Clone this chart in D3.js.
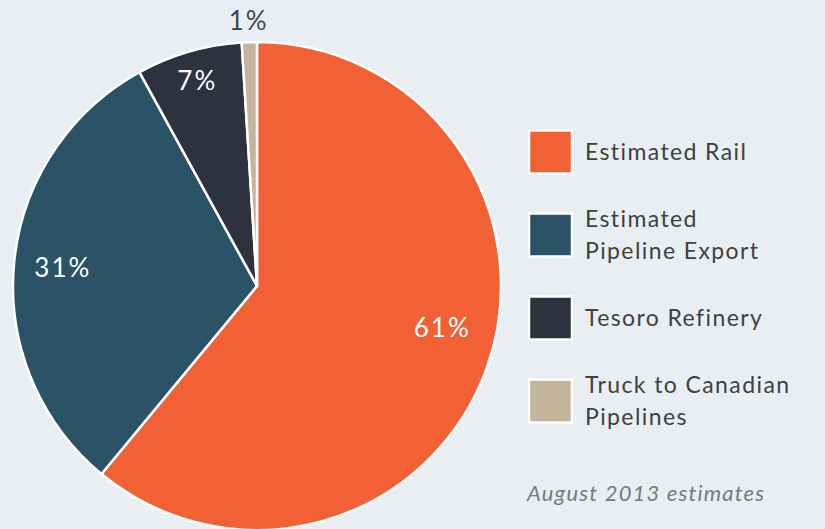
<!DOCTYPE html>
<html lang="en">
<head>
<meta charset="utf-8">
<title>Crude oil transport shares</title>
<script src="https://d3js.org/d3.v7.min.js"></script>
<style>
  body { margin: 0; background: #e9eef2; }
  svg { display: block; font-family: "Lato", "Open Sans", sans-serif; }
  .legend-text { fill: #404040; font-size: 23px; letter-spacing: 1.4px; }
  .slice-label { font-size: 26px; letter-spacing: 2px; }
  .note { fill: #7a7a7a; font-size: 22px; font-style: italic; letter-spacing: 1.2px; }
</style>
</head>
<body>
<script>
const categories = ["Estimated Rail", "Estimated Pipeline Export", "Tesoro Refinery", "Truck to Canadian Pipelines"];
const legendLines = [["Estimated Rail"], ["Estimated", "Pipeline Export"], ["Tesoro Refinery"], ["Truck to Canadian", "Pipelines"]];
const shares = [61, 31, 7, 1];
const colors = ["#f26036", "#2b5266", "#2e323f", "#c4b49b"];
// label placement: radius and small angle nudge (degrees), white inside / dark outside
const labelRadius = [190, 195, 214, 266];
const labelNudge = [-7, 0, 0, 0];
const labelFill = ["#fff", "#fff", "#fff", "#444"];

const w = 825, h = 529;
const cx = 257, cy = 286, r = 244;

const svg = d3.select("body").append("svg")
  .attr("width", w).attr("height", h);

svg.append("rect").attr("width", w).attr("height", h).attr("fill", "#e9eef2");

const pie = d3.pie().sort(null).value(d => d)(shares);
const arc = d3.arc().innerRadius(0).outerRadius(r);

const g = svg.append("g").attr("transform", `translate(${cx},${cy})`);

g.selectAll("path")
  .data(pie)
  .enter()
  .append("path")
  .attr("d", arc)
  .attr("fill", (d, i) => colors[i])
  .attr("stroke", "#fff")
  .attr("stroke-width", 2.5)
  .attr("stroke-linejoin", "round");

g.selectAll("text.slice-label")
  .data(pie)
  .enter()
  .append("text")
  .attr("class", "slice-label")
  .attr("transform", (d, i) => {
    const a = (d.startAngle + d.endAngle) / 2 + labelNudge[i] * Math.PI / 180;
    const lr = labelRadius[i];
    return `translate(${lr * Math.sin(a)},${-lr * Math.cos(a)})`;
  })
  .attr("text-anchor", "middle")
  .attr("dy", "0.36em")
  .attr("fill", (d, i) => labelFill[i])
  .text(d => d.data + "%");

// legend
const legY = d3.scalePoint().domain(d3.range(categories.length)).range([152, 401]);

const leg = svg.append("g");
const item = leg.selectAll("g")
  .data(categories)
  .enter()
  .append("g")
  .attr("transform", (d, i) => `translate(528,${legY(i)})`);

item.append("rect")
  .attr("x", 1).attr("y", -21.5)
  .attr("width", 43).attr("height", 43)
  .attr("fill", (d, i) => colors[i])
  .attr("stroke", "#fff")
  .attr("stroke-width", 2.5);

item.each(function(d, i) {
  const lines = legendLines[i];
  const t = d3.select(this).append("text")
    .attr("class", "legend-text")
    .attr("x", 57);
  lines.forEach((ln, j) => {
    t.append("tspan")
      .attr("x", 57)
      .attr("y", (j - (lines.length - 1) / 2) * 32)
      .attr("dy", "0.36em")
      .text(ln);
  });
});

svg.append("text")
  .attr("class", "note")
  .attr("x", 527).attr("y", 501)
  .text("August 2013 estimates");
</script>
</body>
</html>
